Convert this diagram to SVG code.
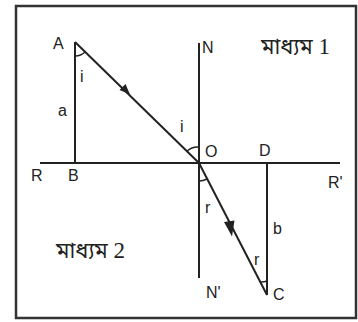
<svg xmlns="http://www.w3.org/2000/svg" width="358" height="322" viewBox="0 0 358 322">
<defs>
<style>
.ln{stroke:#222;stroke-width:2;fill:none}
.arc{stroke:#222;stroke-width:1.5;fill:none}
.lb{font-family:"Liberation Sans",Arial,sans-serif;font-size:16px;fill:#222}
.bn{font-family:"Noto Sans","Noto Sans Bengali","Liberation Serif",serif;font-size:22px;fill:#222}
.dg{font-family:"Liberation Serif","Times New Roman",serif;font-size:23px}
</style>
</defs>
<rect x="16" y="6" width="340" height="312" fill="#fff" stroke="#333" stroke-width="2.5"/>
<g id="connectors">
<line class="ln" x1="40" y1="163" x2="340" y2="163"/>
<line class="ln" x1="75" y1="42" x2="75" y2="163"/>
<line class="ln" x1="199" y1="43" x2="199" y2="278"/>
<line class="ln" x1="267" y1="163" x2="267" y2="295"/>
<line class="ln" x1="75" y1="42" x2="199" y2="163"/>
<line class="ln" x1="199" y1="163" x2="267" y2="295"/>
<path d="M119.5,90 L130,94.5 L125.5,84 z" fill="#222"/>
<path d="M224,222 L232,236.5 L234.5,220.5 z" fill="#222"/>
<path class="arc" d="M75,56 A14,14 0 0 0 85,52"/>
<path class="arc" d="M187,151 A16,16 0 0 1 199,147"/>
<path class="arc" d="M199,181 A18,18 0 0 0 207,179"/>
<path class="arc" d="M267,281 A14,14 0 0 1 260,282"/>
</g>
<g id="A"><text class="lb" x="53" y="49">A</text></g>
<g id="B"><text class="lb" x="68" y="181">B</text></g>
<g id="R"><text class="lb" x="31" y="181">R</text></g>
<g id="Rp"><text class="lb" x="328" y="188">R'</text></g>
<g id="N"><text class="lb" x="202" y="53">N</text></g>
<g id="Np"><text class="lb" x="206" y="298">N'</text></g>
<g id="O"><text class="lb" x="205" y="157">O</text></g>
<g id="D"><text class="lb" x="259" y="156">D</text></g>
<g id="C"><text class="lb" x="273" y="300">C</text></g>
<g id="labels">
<text class="lb" x="80" y="82">i</text>
<text class="lb" x="58" y="116">a</text>
<text class="lb" x="180" y="132">i</text>
<text class="lb" x="205" y="213">r</text>
<text class="lb" x="273" y="234">b</text>
<text class="lb" x="254" y="265">r</text>
</g>
<g id="medium1"><text class="bn" x="261" y="54">মাধ্যম <tspan class="dg">1</tspan></text></g>
<g id="medium2"><text class="bn" x="56" y="258">মাধ্যম <tspan class="dg">2</tspan></text></g>
</svg>
